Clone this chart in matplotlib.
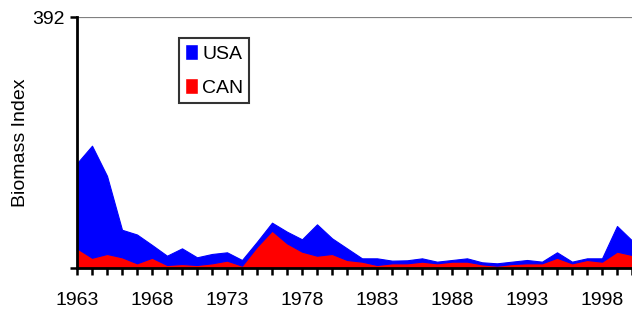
import numpy as np
import matplotlib.pyplot as plt
from matplotlib.patches import Patch

plt.rcParams['font.family'] = ['Liberation Sans', 'DejaVu Sans']

# data (biomass index, stacked: CAN bottom, USA on top)
years = list(range(1963, 2001))
can = [30.7, 16.0, 21.9, 16.7, 7.3, 16.0, 4.7, 6.2, 4.7, 7.3,
       11.5, 3.6, 33.3, 58.3, 38.5, 25.5, 19.2, 21.9, 12.5, 9.9,
       4.7, 7.3, 7.3, 9.9, 7.3, 9.9, 9.9, 5.7, 3.6, 6.2,
       7.3, 7.3, 16.0, 7.3, 12.5, 9.9, 25.5, 20.3]
usa = [133, 175, 122, 43, 45, 20, 14.5, 24.5, 12, 14.6,
       13, 8.9, 7.7, 12.5, 18.2, 19.3, 49, 24.5, 18.2, 5.2,
       10.4, 4.2, 4.7, 5.2, 2.6, 2.6, 5.2, 3.2, 3.7, 3.7,
       5.2, 2.6, 8.5, 2.6, 2.6, 5.2, 40.1, 22.7]
ymax = 392
label_years = [1963, 1968, 1973, 1978, 1983, 1988, 1993, 1998]

fig = plt.figure(figsize=(6.32, 3.13), dpi=100)
ax = fig.add_axes([77 / 632, 45 / 313, 555 / 632, 251 / 313])

ax.stackplot(years, can, usa, colors=['#ff0000', '#0000ff'],
             linewidth=0.8, edgecolor='face')
ax.axhline(ymax, color='#808080', lw=1.6, zorder=1)

ax.set_xlim(1963, 2000)
ax.set_ylim(0, ymax)

ax.set_xticks(years)
ax.set_xticklabels([str(y) if y in label_years else '' for y in years])
ax.set_yticks([0, ymax])
ax.set_yticklabels(['', str(ymax)])
ax.tick_params(axis='both', direction='out', length=5, width=1.8,
               labelsize=14, color='black')
ax.tick_params(axis='x', pad=12)
ax.tick_params(axis='y', pad=4)

for side in ['top', 'right']:
    ax.spines[side].set_visible(False)
for side in ['left', 'bottom']:
    ax.spines[side].set_linewidth(2)
    ax.spines[side].set_zorder(5)

ax.set_ylabel('Biomass Index', fontsize=14)
ax.yaxis.set_label_coords((29 - 77) / 555, 0.5)

handles = [Patch(facecolor='#0000ff', edgecolor='white', label='USA'),
           Patch(facecolor='#ff0000', edgecolor='white', label='CAN')]
leg = ax.legend(handles=handles, loc='upper left',
                bbox_to_anchor=((179 - 77) / 555, (313 - 38 - 45) / 251),
                fontsize=14, frameon=True, fancybox=False,
                handlelength=0.7, handleheight=0.9, handletextpad=0.2,
                borderpad=0.3, labelspacing=0.8, borderaxespad=0)
leg.get_frame().set_edgecolor('black')
leg.get_frame().set_linewidth(1.5)

fig.savefig('out.png', dpi=100)
